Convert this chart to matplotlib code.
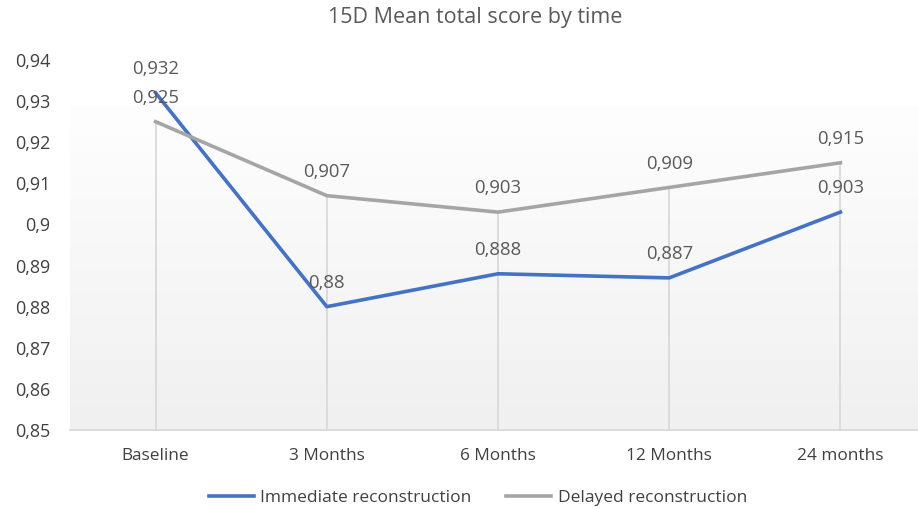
import numpy as np
import matplotlib.pyplot as plt

# data
categories = ["Baseline", "3 Months", "6 Months", "12 Months", "24 months"]
immediate = [0.932, 0.880, 0.888, 0.887, 0.903]
delayed = [0.925, 0.907, 0.903, 0.909, 0.915]
yticks = [0.85, 0.86, 0.87, 0.88, 0.89, 0.90, 0.91, 0.92, 0.93, 0.94]

plt.rcParams['font.family'] = ['Open Sans', 'DejaVu Sans']

def fmt(v):
    return f"{v:g}".replace('.', ',')

fig = plt.figure(figsize=(9.18, 5.09), dpi=100)
ax = fig.add_axes([70/918, 1-430/509, 856/918, 370/509])
x = np.arange(len(categories))

# gradient plot area
grad = np.linspace(0, 1, 256).reshape(-1, 1)
ax.imshow(grad, extent=[-0.5, len(categories)-0.5, 0.85, 0.929], aspect='auto',
          cmap=plt.matplotlib.colors.LinearSegmentedColormap.from_list('g', ['#f0f0f0', '#fefefe']),
          origin='lower', zorder=0)

# drop lines
for xi, v in zip(x, delayed):
    ax.plot([xi, xi], [0.85, v], color='#d9d9d9', lw=1.3, zorder=1)

ax.plot(x, immediate, color='#4472C4', lw=2.6, label='Immediate reconstruction', zorder=3,
        solid_joinstyle='round')
ax.plot(x, delayed, color='#A5A5A5', lw=2.6, label='Delayed reconstruction', zorder=4,
        solid_joinstyle='round')

for xi, v in zip(x, immediate):
    ax.annotate(fmt(v), (xi, v), xytext=(0, 17), textcoords='offset points',
                ha='center', va='center', fontsize=13.3, color='#595959', zorder=5)
for xi, v in zip(x, delayed):
    ax.annotate(fmt(v), (xi, v), xytext=(0, 17), textcoords='offset points',
                ha='center', va='center', fontsize=13.3, color='#595959', zorder=5)

ax.set_xlim(-0.5, len(categories)-0.5)
ax.set_ylim(0.85, 0.94)
ax.set_yticks(yticks)
ax.set_yticklabels([fmt(round(t, 2)) for t in yticks], fontsize=13)
ax.set_xticks(x)
ax.set_xticklabels(categories, fontsize=12.4)
ax.tick_params(axis='both', length=0, labelcolor='#404040')
ax.tick_params(axis='y', pad=14)
ax.tick_params(axis='x', pad=13)
for s in ['top', 'right', 'left']:
    ax.spines[s].set_visible(False)
ax.spines['bottom'].set_color('#d9d9d9')
ax.spines['bottom'].set_linewidth(1.3)
ax.patch.set_alpha(0)

fig.text(475/918, 1-18/509, "15D Mean total score by time", ha='center', va='center',
         fontsize=15.5, color='#595959')

fig.legend(loc='center', bbox_to_anchor=(478/918, 1-498/509), ncol=2, frameon=False,
           fontsize=12.5, labelcolor='#404040', handlelength=2.6, columnspacing=2.0,
           handletextpad=0.35)

fig.savefig('out.png', dpi=100)
